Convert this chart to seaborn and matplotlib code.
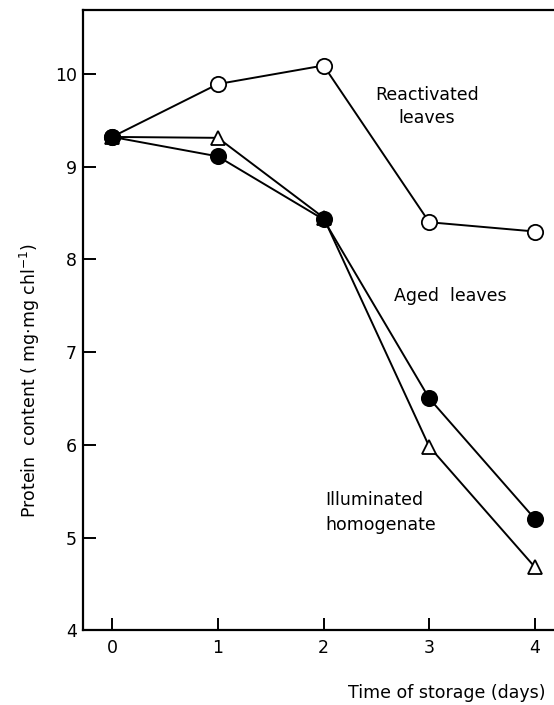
import matplotlib
matplotlib.use("Agg")
import matplotlib.pyplot as plt
import seaborn as sns
import pandas as pd

sns.set_theme(style="white")
plt.rcParams["font.family"] = ["DejaVu Sans"]
plt.rcParams["text.color"] = "black"
plt.rcParams["xtick.color"] = "black"
plt.rcParams["ytick.color"] = "black"

# Storage time (days) and protein content per unit chlorophyll
days = [0, 1, 2, 3, 4]
reactivated = [9.32, 9.89, 10.09, 8.40, 8.30]
aged = [9.32, 9.11, 8.43, 6.50, 5.20]
illuminated = [9.32, 9.31, 8.45, 5.98, 4.68]

y_ticks = [4, 5, 6, 7, 8, 9, 10]
x_ticks = [0, 1, 2, 3, 4]

fig = plt.figure(figsize=(5.54, 7.05), dpi=100)
ax = fig.add_axes([0.149, 0.106, 0.851, 0.880])

series = [
    (reactivated, "o", "white", 11),
    (illuminated, "^", "white", 10),
    (aged, "o", "black", 11),
]
for values, marker, face, size in series:
    df = pd.DataFrame({"day": days, "protein": values})
    sns.lineplot(data=df, x="day", y="protein", ax=ax, color="black",
                 linewidth=1.4, marker=marker, markersize=size,
                 markerfacecolor=face, markeredgecolor="black",
                 markeredgewidth=1.3, legend=False)

ax.set_xlim(-0.28, 4.18)
ax.set_ylim(4, 10.69)
ax.set_xticks(x_ticks)
ax.set_yticks(y_ticks)
ax.set_xticklabels([str(t) for t in x_ticks])
ax.set_yticklabels([str(t) for t in y_ticks])

for side in ("left", "bottom", "top"):
    ax.spines[side].set_visible(True)
    ax.spines[side].set_color("black")
    ax.spines[side].set_linewidth(1.6)
ax.spines["right"].set_visible(False)

ax.tick_params(axis="both", which="major", direction="in", length=9,
               width=1.4, colors="black", labelcolor="black", labelsize=12.5,
               bottom=True, left=True, top=False, right=False)
ax.tick_params(axis="y", pad=4)
ax.tick_params(axis="x", pad=6)

ax.set_xlabel("")
ax.set_ylabel("")
fig.text(545 / 554, 1 - 693 / 705, "Time of storage (days)", ha="right",
         va="center", fontsize=12.5, color="black")
fig.text(30 / 554, 1 - 380 / 705,
         r"Protein  content ( mg$\cdot$mg chl$^{-1}$)", rotation=90,
         ha="center", va="center", fontsize=12.5, color="black")

ax.text(2.98, 9.65, "Reactivated\nleaves", ha="center", va="center",
        fontsize=12.5, linespacing=1.35, color="black")
ax.text(3.2, 7.6, "Aged  leaves", ha="center", va="center", fontsize=12.5,
        color="black")
ax.text(2.02, 5.27, "Illuminated\nhomogenate", ha="left", va="center",
        fontsize=12.5, linespacing=1.5, color="black")

fig.savefig("out.png", dpi=100, facecolor="white")
